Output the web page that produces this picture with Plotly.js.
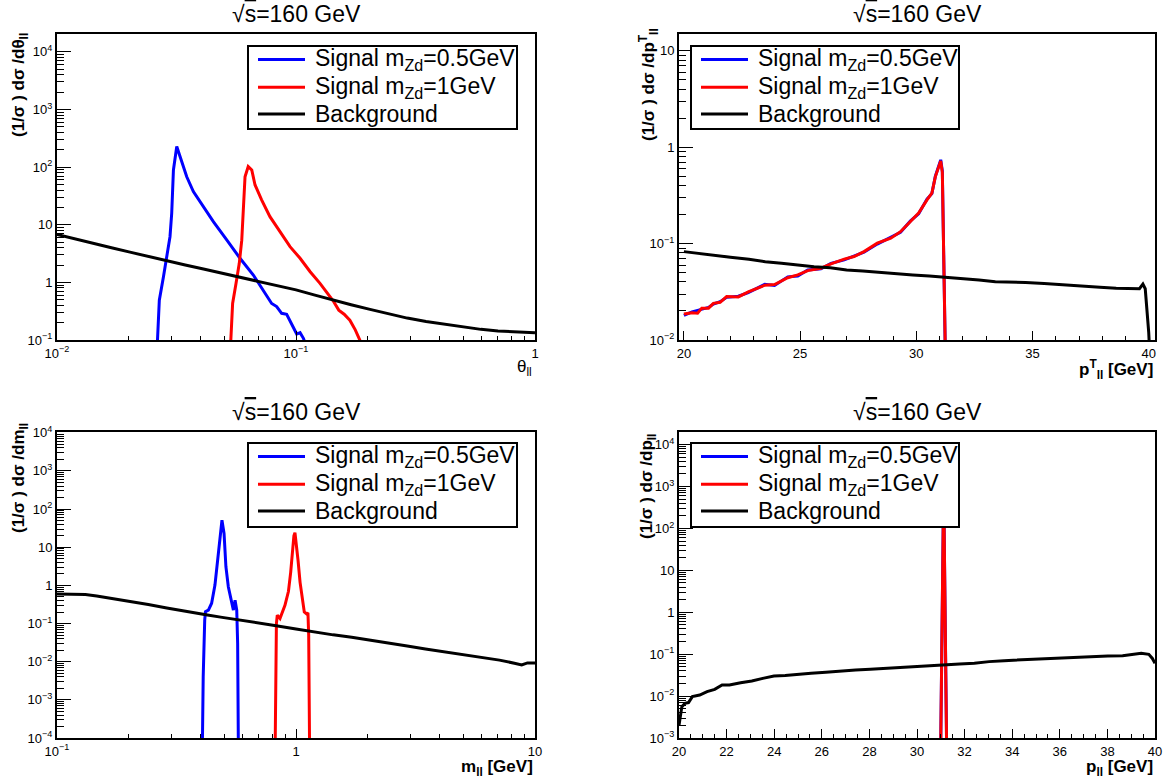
<!DOCTYPE html>
<html><head><meta charset="utf-8">
<script src="https://cdn.plot.ly/plotly-3.0.1.min.js"></script>
<style>html,body{margin:0;padding:0;background:#fff}#plot{width:1164px;height:782px}</style>
</head><body><div id="plot"></div>
<script>
// ---------- Panel 1: theta_ll ----------
const thBgX = [0.01, 0.0118, 0.0141, 0.0169, 0.0202, 0.0241, 0.0288, 0.0344, 0.041, 0.0491, 0.058, 0.0702, 0.083, 0.1, 0.12, 0.143, 0.17, 0.204, 0.245, 0.292, 0.35, 0.417, 0.5, 0.594, 0.7, 0.849, 1.0];
const thBgY = [6.8, 5.7, 4.8, 4.0, 3.35, 2.8, 2.35, 2.0, 1.7, 1.44, 1.2, 1.03, 0.88, 0.74, 0.6, 0.49, 0.41, 0.34, 0.285, 0.24, 0.21, 0.188, 0.168, 0.153, 0.143, 0.136, 0.134];
const thS05X = [0.0263, 0.0268, 0.0279, 0.0286, 0.0297, 0.0302, 0.0307, 0.0317, 0.0327, 0.0349, 0.0372, 0.0409, 0.0451, 0.0513, 0.0583, 0.0663, 0.073, 0.0791, 0.083, 0.0871, 0.0914, 0.0959, 0.1007, 0.104, 0.1074, 0.109];
const thS05Y = [0.09, 0.49, 1.26, 2.45, 6.2, 15.9, 89, 227, 152, 68, 37.6, 20.6, 11.3, 5.45, 2.62, 1.34, 0.74, 0.43, 0.38, 0.29, 0.28, 0.195, 0.127, 0.134, 0.107, 0.09];
const thS1X = [0.0533, 0.0543, 0.0561, 0.0579, 0.0593, 0.0602, 0.0612, 0.0631, 0.0653, 0.0674, 0.0718, 0.0778, 0.0857, 0.0944, 0.104, 0.1146, 0.126, 0.1365, 0.143, 0.151, 0.159, 0.168, 0.177, 0.187];
const thS1Y = [0.09, 0.43, 0.96, 2.14, 5.4, 20.6, 68, 102, 89, 49, 27, 13.8, 7.6, 4.17, 2.62, 1.53, 0.96, 0.6, 0.48, 0.33, 0.28, 0.22, 0.15, 0.09];

// ---------- Panel 2: pT_ll ----------
const ptSigX = [20.0, 20.35, 20.59, 20.77, 21.06, 21.27, 21.56, 21.84, 22.34, 22.77, 23.48, 23.9, 24.47, 24.9, 25.33, 25.9, 26.33, 26.9, 27.32, 27.75, 28.32, 28.9, 29.32, 29.75, 30.1, 30.46, 30.67, 30.82, 31.0, 31.05, 31.12, 31.18, 31.26];
const ptS05Y = [0.018, 0.0196, 0.0203, 0.0208, 0.0218, 0.0236, 0.025, 0.0277, 0.0285, 0.031, 0.0378, 0.0368, 0.0452, 0.0462, 0.0532, 0.0548, 0.0625, 0.0678, 0.0745, 0.0815, 0.099, 0.116, 0.131, 0.172, 0.204, 0.29, 0.33, 0.5, 0.69, 0.74, 0.57, 0.1, 0.005];
const ptS1Y = [0.0186, 0.0192, 0.019, 0.0214, 0.0214, 0.024, 0.0246, 0.0282, 0.028, 0.0316, 0.037, 0.0376, 0.0443, 0.0473, 0.0525, 0.0556, 0.0616, 0.069, 0.0735, 0.0826, 0.101, 0.114, 0.133, 0.169, 0.207, 0.284, 0.334, 0.496, 0.68, 0.72, 0.55, 0.1, 0.005];
const ptBgX = [20.0, 20.6, 21.3, 22.0, 22.8, 23.5, 24.2, 24.9, 25.6, 26.3, 27.0, 27.7, 28.4, 29.1, 29.85, 30.56, 31.27, 31.98, 32.7, 33.4, 34.1, 34.7, 35.5, 36.3, 37.1, 37.9, 38.6, 39.2, 39.6, 39.75, 39.85, 40.0, 40.06];
const ptBgY = [0.0826, 0.0794, 0.0745, 0.0724, 0.0689, 0.065, 0.0625, 0.060, 0.0577, 0.0563, 0.0533, 0.052, 0.0504, 0.0484, 0.0473, 0.0462, 0.0448, 0.0437, 0.042, 0.0403, 0.040, 0.0394, 0.0385, 0.0372, 0.036, 0.0352, 0.0345, 0.0343, 0.034, 0.038, 0.034, 0.012, 0.006];

// ---------- Panel 3: m_ll ----------
const mS05X = [0.4056, 0.409, 0.415, 0.418, 0.43, 0.4436, 0.458, 0.473, 0.484, 0.49, 0.50, 0.509, 0.521, 0.538, 0.547, 0.556, 0.565, 0.57, 0.574];
const mS05Y = [5e-5, 0.004, 0.123, 0.204, 0.225, 0.34, 1.02, 6.9, 34, 51, 23, 3.08, 0.92, 0.34, 0.225, 0.41, 0.225, 0.03, 5e-5];
const mS1X = [0.818, 0.822, 0.828, 0.835, 0.857, 0.899, 0.93, 0.95, 0.965, 0.98, 0.99, 1.0, 1.02, 1.04, 1.06, 1.083, 1.107, 1.122, 1.13, 1.14];
const mS1Y = [5e-5, 0.01, 0.1, 0.166, 0.136, 0.3, 0.7, 2.2, 7, 20, 24, 15, 4.5, 1.2, 0.45, 0.2, 0.18, 0.19, 0.05, 5e-5];
const mBgX = [0.1, 0.1315, 0.1466, 0.1687, 0.2017, 0.241, 0.288, 0.344, 0.426, 0.491, 0.587, 0.702, 0.838, 1.0, 1.197, 1.43, 1.71, 2.04, 2.44, 2.92, 3.48, 4.17, 4.98, 5.95, 7.1, 8.2, 8.8, 9.3, 10];
const mBgY = [0.59, 0.58, 0.53, 0.46, 0.385, 0.315, 0.255, 0.207, 0.167, 0.145, 0.123, 0.102, 0.0865, 0.0718, 0.0592, 0.0505, 0.0435, 0.037, 0.0305, 0.0258, 0.0216, 0.0182, 0.0157, 0.0134, 0.011, 0.0091, 0.0082, 0.0093, 0.0093];

// ---------- Panel 4: p_ll ----------
const pS05X = [30.98, 31.12, 31.26];
const pS05Y = [1e-4, 1100, 1e-4];
const pS1X = [30.98, 31.12, 31.26];
const pS1Y = [1e-4, 1000, 1e-4];
const pBgX = [20.0, 20.06, 20.12, 20.25, 20.4, 20.56, 20.87, 21.18, 21.5, 21.81, 22.12, 22.59, 23.06, 23.52, 23.99, 24.46, 24.93, 25.55, 26.17, 26.8, 27.42, 28.04, 28.67, 29.29, 29.91, 30.54, 31.16, 31.79, 32.41, 33.03, 33.66, 34.28, 34.9, 35.53, 36.15, 36.77, 37.4, 38.02, 38.64, 39.11, 39.42, 39.74, 39.89, 40.0];
const pBgY = [0.002, 0.0039, 0.0056, 0.0067, 0.007, 0.0097, 0.0106, 0.0128, 0.0145, 0.0184, 0.0184, 0.0209, 0.0229, 0.0265, 0.030, 0.031, 0.033, 0.035, 0.0369, 0.0397, 0.042, 0.0436, 0.046, 0.048, 0.0505, 0.0532, 0.0573, 0.0584, 0.0605, 0.0664, 0.070, 0.0727, 0.0755, 0.078, 0.0826, 0.0857, 0.0873, 0.0906, 0.092, 0.099, 0.105, 0.099, 0.079, 0.0605];

// ---------- labels ----------
const seriesNames = ['Signal m<sub>Zd</sub>=0.5GeV', 'Signal m<sub>Zd</sub>=1GeV', 'Background'];
const seriesColors = ['#0000ff', '#ff0000', '#000000'];
const panelTitle = '√<span style="text-decoration:overline">s</span>=160 GeV';
const yTitles = ['<b>(1/σ ) dσ /dθ<sub>ll</sub></b>', '<b>(1/σ ) dσ /dp<sup>T</sup><sub>ll</sub></b>', '<b>(1/σ ) dσ /dm<sub>ll</sub></b>', '<b>(1/σ ) dσ /dp<sub>ll</sub></b>'];
const xTitles = ['θ<sub>ll</sub>', '<b>p<sup>T</sup><sub>ll</sub> [GeV]</b>', '<b>m<sub>ll</sub> [GeV]</b>', '<b>p<sub>ll</sub> [GeV]</b>'];

const W = 1164, H = 782;
const FONT = 'Liberation Sans, Arial, Helvetica, sans-serif';
const px = v => v / W, py = v => 1 - v / H;

function powLabel(e) {
  if (e === 0) return '1';
  if (e === 1) return '10';
  return '10<sup>' + (e < 0 ? '−' + (-e) : e) + '</sup>';
}
function logTicks(e0, e1) {
  const major = [], text = [], minor = [];
  for (let e = e0; e <= e1; e++) {
    major.push(Math.pow(10, e)); text.push(powLabel(e));
    for (let k = 2; k <= 9; k++) minor.push(k * Math.pow(10, e));
  }
  return {major, text, minor};
}
function logAxis(domain, range, e0, e1, len, anchor) {
  const t = logTicks(e0, e1);
  return {
    type: 'log', domain, range, anchor,
    tickmode: 'array', tickvals: t.major, ticktext: t.text,
    ticks: 'inside', ticklen: len, tickwidth: 1, tickcolor: '#000',
    minor: {tickmode: 'array', tickvals: t.minor, ticks: 'inside', ticklen: len / 2, tickwidth: 1, tickcolor: '#000'},
    showline: true, mirror: true, linecolor: '#000', linewidth: 2,
    showgrid: false, zeroline: false,
    tickfont: {family: FONT, size: 13, color: '#000'}
  };
}
function linAxis(domain, range, major, minorStep, anchor) {
  const mv = [];
  for (let v = Math.ceil(range[0] / minorStep) * minorStep; v <= range[1] + 1e-9; v += minorStep) mv.push(+v.toFixed(3));
  return {
    type: 'linear', domain, range, anchor,
    tickmode: 'array', tickvals: major, ticktext: major.map(String),
    ticks: 'inside', ticklen: 9, tickwidth: 1, tickcolor: '#000',
    minor: {tickmode: 'array', tickvals: mv, ticks: 'inside', ticklen: 4.5, tickwidth: 1, tickcolor: '#000'},
    showline: true, mirror: true, linecolor: '#000', linewidth: 2,
    showgrid: false, zeroline: false,
    tickfont: {family: FONT, size: 13, color: '#000'}
  };
}

const leftX = [px(57), px(535)], rightX = [px(679), px(1155)];
const topY = [py(340), py(33.5)], botY = [py(738), py(432)];

const panels = [
  {xs: [thS05X, thS1X, thBgX], ys: [thS05Y, thS1Y, thBgY], xa: 'x', ya: 'y'},
  {xs: [ptSigX, ptSigX, ptBgX], ys: [ptS05Y, ptS1Y, ptBgY], xa: 'x2', ya: 'y2'},
  {xs: [mS05X, mS1X, mBgX], ys: [mS05Y, mS1Y, mBgY], xa: 'x3', ya: 'y3'},
  {xs: [pS05X, pS1X, pBgX], ys: [pS05Y, pS1Y, pBgY], xa: 'x4', ya: 'y4'}
];
const data = [];
panels.forEach(p => {
  for (let i = 0; i < 3; i++) {
    data.push({
      type: 'scatter', mode: 'lines', x: p.xs[i], y: p.ys[i],
      xaxis: p.xa, yaxis: p.ya, name: seriesNames[i], showlegend: false,
      line: {color: seriesColors[i], width: 3}
    });
  }
});

// ---------- legend boxes (ROOT TLegend style) ----------
const shapes = [], ann = [];
const legendBoxes = [[248, 517, 46, 129], [691, 959, 46, 129], [248, 517, 443, 527], [691, 959, 443, 527]];
legendBoxes.forEach(b => {
  const [x0, x1, y0, y1] = b;
  shapes.push({type: 'rect', xref: 'paper', yref: 'paper', x0: px(x0), x1: px(x1), y0: py(y1), y1: py(y0),
    line: {color: '#000', width: 2}, fillcolor: '#fff', layer: 'above'});
  const rowY = [y0 + 13.5, y0 + 41.3, y0 + 68];
  for (let i = 0; i < 3; i++) {
    shapes.push({type: 'line', xref: 'paper', yref: 'paper', x0: px(x0 + 10), x1: px(x0 + 57), y0: py(rowY[i]), y1: py(rowY[i]),
      line: {color: seriesColors[i], width: 3}, layer: 'above'});
    ann.push({xref: 'paper', yref: 'paper', x: px(x0 + 65), y: py(rowY[i]), text: seriesNames[i], showarrow: false,
      xanchor: 'left', yanchor: 'middle', font: {family: FONT, size: 23, color: '#000'}});
  }
});

const centersX = [296, 917, 296, 917];
const titleY = [14, 14, 412, 412];
const yTitleX = [20, 648, 20, 648];
const yTitleY = [85, 85, 478, 487];
const xTitleR = [534, 1155, 535, 1155];
const xTitleY = [368, 369, 768, 768];
for (let i = 0; i < 4; i++) {
  ann.push({xref: 'paper', yref: 'paper', x: px(centersX[i]), y: py(titleY[i]), text: panelTitle,
    showarrow: false, xanchor: 'center', yanchor: 'middle', font: {family: FONT, size: 23, color: '#000'}});
  ann.push({xref: 'paper', yref: 'paper', x: px(yTitleX[i]), y: py(yTitleY[i]), text: yTitles[i], textangle: -90,
    showarrow: false, xanchor: 'center', yanchor: 'middle', font: {family: FONT, size: 17, color: '#000'}});
  ann.push({xref: 'paper', yref: 'paper', x: px(xTitleR[i]), y: py(xTitleY[i]), text: xTitles[i],
    showarrow: false, xanchor: 'right', yanchor: 'middle', font: {family: FONT, size: 17, color: '#000'}});
}

const layout = {
  width: W, height: H, autosize: false,
  margin: {l: 0, r: 0, t: 0, b: 0},
  paper_bgcolor: '#fff', plot_bgcolor: '#fff',
  showlegend: false,
  xaxis: logAxis(leftX, [-2, 0], -2, 0, 9, 'y'),
  yaxis: logAxis(topY, [-1, 4.318], -1, 4, 14, 'x'),
  xaxis2: linAxis(rightX, [19.79, 40.27], [20, 25, 30, 35, 40], 1, 'y2'),
  yaxis2: logAxis(topY, [-2, 1.18], -2, 1, 14, 'x2'),
  xaxis3: logAxis(leftX, [-1, 1], -1, 1, 9, 'y3'),
  yaxis3: logAxis(botY, [-4, 4.02], -4, 4, 14, 'x3'),
  xaxis4: linAxis(rightX, [20, 40], [20, 22, 24, 26, 28, 30, 32, 34, 36, 38, 40], 0.5, 'y4'),
  yaxis4: logAxis(botY, [-3, 4.3], -3, 4, 14, 'x4'),
  shapes: shapes,
  annotations: ann
};
Plotly.newPlot('plot', data, layout, {staticPlot: true, displayModeBar: false});
</script>
</body></html>
